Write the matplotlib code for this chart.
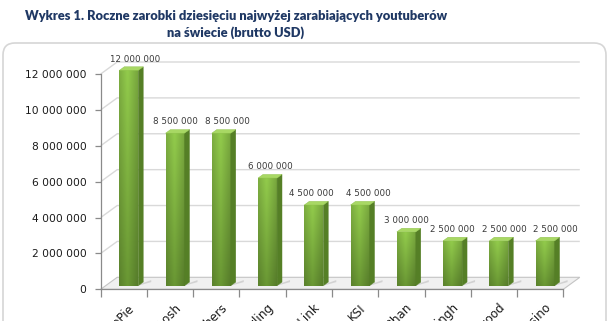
import matplotlib
matplotlib.use("Agg")
import matplotlib.pyplot as plt
import matplotlib.transforms as mtransforms
import numpy as np
from matplotlib.patches import Polygon, FancyBboxPatch
from matplotlib.colors import to_rgb

# ---------------- data ----------------
categories = ["PewDiePie", "Smosh", "Fine Brothers", "Lindsey Stirling",
              "Rhett & Link", "KSI", "Michelle Phan", "Lilly Singh",
              "Roman Atwood", "Rosanna Pansino"]
earnings = [12000000, 8500000, 8500000, 6000000, 4500000,
            4500000, 3000000, 2500000, 2500000, 2500000]
y_ticks = [0, 2000000, 4000000, 6000000, 8000000, 10000000, 12000000]
title_line1 = "Wykres 1. Roczne zarobki dziesięciu najwyżej zarabiających youtuberów"
title_line2 = "na świecie (brutto USD)"

# layout only: horizontal nudges (pixels) of the value labels, as in the source
label_nudge_px = [11, 5, 11, 8, 3, 13, 5, 5, 10, 15]


def fmt(v):
    return f"{v:,}".replace(",", " ")


# ---------------- figure ----------------
W_PX, H_PX = 609, 321
fig = plt.figure(figsize=(W_PX / 100, H_PX / 100), dpi=100)
fig.patch.set_facecolor("white")

# rounded chart frame
frame = FancyBboxPatch((0.03, -0.5), 6.03, 3.28,
                       boxstyle="round,pad=0,rounding_size=0.12",
                       transform=fig.dpi_scale_trans, fc="white",
                       ec="#d6d6d6", lw=1.2, zorder=-10)
fig.patches.append(frame)

# axes geometry (pixel based)
x0_px, x1_px = 100.7, 563.3
y0_px, y12_px = 289.3, 74.0
ymax = 13000000
px_per_val = (y0_px - y12_px) / 12000000
ax_h_px = ymax * px_per_val
ax = fig.add_axes([x0_px / W_PX, (H_PX - y0_px) / H_PX,
                   (x1_px - x0_px) / W_PX, ax_h_px / H_PX], zorder=2)
ax.set_xlim(0, len(categories))
ax.set_ylim(0, ymax)
ax.patch.set_alpha(0)

PX = len(categories) / (x1_px - x0_px)   # data-x per pixel
PY = 1 / px_per_val                      # data-y per pixel
DX, DY = 16.5 * PX, 12 * PY              # 3D depth offset
F1, F2 = 0.30, 0.60                      # bar front / back depth
BW = 19 * PX

# floor
floor = Polygon([(0, 0), (DX, DY), (len(categories) + DX, DY), (len(categories), 0)],
                closed=True, fc="#f0f0f0", ec="#c4c4c4", lw=0.8,
                clip_on=False, zorder=1)
ax.add_patch(floor)

# gridlines on left + back wall
for v in y_ticks[1:]:
    ax.plot([0, DX, len(categories) + DX], [v, v + DY, v + DY],
            color="#d9d9d9", lw=1.0, clip_on=False, zorder=1,
            solid_capstyle="butt")

# bars
top_c = np.array(to_rgb("#93cc4c"))
bot_c = np.array(to_rgb("#6a9834"))
n_v, n_h = 64, 16
t = np.linspace(0, 1, n_v)[:, None]           # 0 bottom .. 1 top
h = np.linspace(0, 1, n_h)[None, :]
shade = 1.0 - 0.18 * np.abs(h - 0.45) / 0.55
grad = (bot_c[None, None, :] * (1 - t[..., None]) + top_c[None, None, :] * t[..., None])
grad = grad * shade[..., None]
grad = np.clip(grad, 0, 1)

for i, v in enumerate(earnings):
    xl = i + 0.5 - BW / 2 + F1 * DX
    yb = F1 * DY
    dx2, dy2 = (F2 - F1) * DX, (F2 - F1) * DY
    # shadow on floor
    sh = Polygon([(xl + BW, yb), (xl + BW + dx2 + 8 * PX, yb + dy2),
                  (xl + BW + dx2 + 8 * PX, yb + dy2 + 2 * PY), (xl + BW, yb + 1 * PY)],
                 closed=True, fc="#9a9a9a", ec="none", alpha=0.35, zorder=2,
                 clip_on=False)
    ax.add_patch(sh)
    # front face with gradient
    front = Polygon([(xl, yb), (xl + BW, yb), (xl + BW, v + yb), (xl, v + yb)],
                    closed=True, fc="none", ec="none", zorder=3)
    ax.add_patch(front)
    im = ax.imshow(grad, extent=(xl, xl + BW, yb, v + yb), origin="lower",
                   aspect="auto", zorder=3, interpolation="bilinear")
    im.set_clip_path(front)
    # side face
    side = Polygon([(xl + BW, yb), (xl + BW + dx2, yb + dy2),
                    (xl + BW + dx2, v + yb + dy2), (xl + BW, v + yb)],
                   closed=True, fc="#557f26", ec="#557f26", lw=0.3, zorder=3,
                   clip_on=False)
    ax.add_patch(side)
    # top face
    top = Polygon([(xl, v + yb), (xl + dx2, v + yb + dy2),
                   (xl + BW + dx2, v + yb + dy2), (xl + BW, v + yb)],
                  closed=True, fc="#a8d864", ec="#8cbf48", lw=0.3, zorder=4,
                  clip_on=False)
    ax.add_patch(top)
    # data label
    ax.annotate(fmt(v), xy=(i + 0.5, v), xytext=(label_nudge_px[i], 15),
                textcoords="offset pixels", ha="center", va="center",
                fontsize=6.3, color="#3a3a3a", zorder=5,
                annotation_clip=False)

ax.set_xlim(0, len(categories))
ax.set_ylim(0, ymax)

# spines and ticks
for s in ["top", "right"]:
    ax.spines[s].set_visible(False)
for s in ["left", "bottom"]:
    ax.spines[s].set_color("#8a8a8a")
    ax.spines[s].set_linewidth(0.9)
    ax.spines[s].set_zorder(6)
ax.spines["left"].set_bounds(0, 12000000)

ax.set_yticks(y_ticks)
ax.set_yticklabels([fmt(v) for v in y_ticks])
ax.tick_params(axis="y", length=4, color="#8a8a8a", width=0.9, pad=6.3,
               labelsize=7.7, labelcolor="#1a1a1a")

ax.set_xticks(np.arange(len(categories) + 1))
ax.tick_params(axis="x", which="major", length=6, color="#8a8a8a", width=0.9,
               labelbottom=False)
ax.set_xticks(np.arange(len(categories)) + 0.5, minor=True)
ax.set_xticklabels(categories, minor=True, rotation=45, ha="right",
                   rotation_mode="anchor", fontsize=8.6, color="#1a1a1a")
ax.tick_params(axis="x", which="minor", length=0, pad=9.0)
offset = mtransforms.ScaledTranslation(4 / 100, 0, fig.dpi_scale_trans)
for lab in ax.get_xticklabels(minor=True):
    lab.set_transform(lab.get_transform() + offset)

# title
title_color = "#1f3864"
fig.text(236 / W_PX, 1 - 16 / H_PX, title_line1, ha="center", va="center",
         fontsize=9.25, fontweight="heavy", color=title_color, family="Lato")
fig.text(236 / W_PX, 1 - 33 / H_PX, title_line2, ha="center", va="center",
         fontsize=9.25, fontweight="heavy", color=title_color, family="Lato")

fig.savefig("out.png", dpi=100)
